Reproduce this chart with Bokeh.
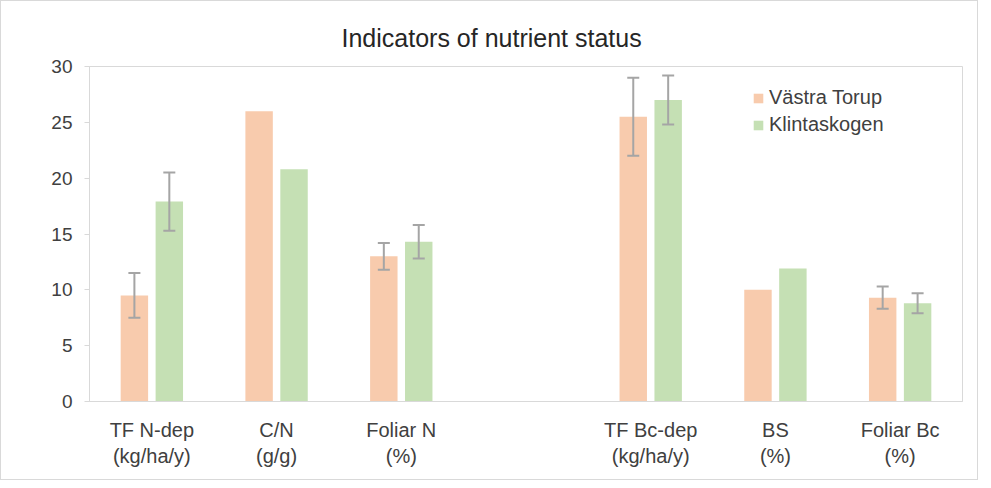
from bokeh.plotting import figure
from bokeh.models import ColumnDataSource, FactorRange, Range1d, Whisker, FixedTicker, TeeHead
from bokeh.transform import dodge
from bokeh.embed import file_html
from bokeh.resources import INLINE

# ---- data ----
categories = ["TF N-dep\n(kg/ha/y)", "C/N\n(g/g)", "Foliar N\n(%)", " ",
              "TF Bc-dep\n(kg/ha/y)", "BS\n(%)", "Foliar Bc\n(%)"]
bar_categories = ["TF N-dep\n(kg/ha/y)", "C/N\n(g/g)", "Foliar N\n(%)",
                  "TF Bc-dep\n(kg/ha/y)", "BS\n(%)", "Foliar Bc\n(%)"]
vastra_torup = [9.5, 26.0, 13.0, 25.5, 10.0, 9.3]
klintaskogen = [17.9, 20.8, 14.3, 27.0, 11.9, 8.8]
vastra_torup_err = [2.0, None, 1.2, 3.5, None, 1.0]
klintaskogen_err = [2.6, None, 1.5, 2.2, None, 0.9]
series_names = ["Västra Torup", "Klintaskogen"]
y_ticks = [0, 5, 10, 15, 20, 25, 30]

colors = ["#F8CBAD", "#C5E0B4"]
err_color = "#A5A5A5"
text_color = "#404040"
FONT = "Liberation Sans"

src = ColumnDataSource(dict(cat=bar_categories, vt=vastra_torup, kl=klintaskogen))

def err_source(vals, errs):
    c, lo, hi = [], [], []
    for cat, v, e in zip(bar_categories, vals, errs):
        if e is not None:
            c.append(cat); lo.append(v - e); hi.append(v + e)
    return ColumnDataSource(dict(cat=c, lower=lo, upper=hi))

p = figure(x_range=FactorRange(factors=categories, range_padding=0),
           y_range=Range1d(0, 30), width=978, height=480,
           output_backend="svg", toolbar_location=None,
           min_border_left=88, min_border_right=17, min_border_top=65, min_border_bottom=80)

offset = 0.14
bw = 0.22
p.vbar(x=dodge("cat", -offset, range=p.x_range), top="vt", width=bw, source=src,
       fill_color=colors[0], line_color=None, legend_label=series_names[0])
p.vbar(x=dodge("cat", offset, range=p.x_range), top="kl", width=bw, source=src,
       fill_color=colors[1], line_color=None, legend_label=series_names[1])

for vals, errs, off in [(vastra_torup, vastra_torup_err, -offset),
                        (klintaskogen, klintaskogen_err, offset)]:
    es = err_source(vals, errs)
    w = Whisker(base=dodge("cat", off, range=p.x_range), lower="lower", upper="upper",
                source=es, line_color=err_color, line_width=2, level="overlay",
                upper_head=TeeHead(size=12, line_color=err_color, line_width=2),
                lower_head=TeeHead(size=12, line_color=err_color, line_width=2))
    p.add_layout(w)

# title
p.title.text = "Indicators of nutrient status"
p.title.align = "left"
p.title.offset = 252
p.title.text_font = FONT
p.title.text_font_size = "25px"
p.title.text_font_style = "normal"
p.title.text_color = "#262626"
p.title.vertical_align = "top"
p.title.standoff = 26

# axes
p.xgrid.grid_line_color = None
p.ygrid.grid_line_color = None
p.outline_line_color = "#D9D9D9"
p.outline_line_width = 1

p.yaxis.ticker = FixedTicker(ticks=y_ticks)
p.yaxis.major_tick_out = 5
p.yaxis.major_tick_in = 0
p.yaxis.minor_tick_line_color = None
p.yaxis.axis_line_color = "#D9D9D9"
p.yaxis.major_tick_line_color = "#D9D9D9"
p.yaxis.major_label_text_font = FONT
p.yaxis.major_label_text_font_size = "19px"
p.yaxis.major_label_text_color = text_color
p.yaxis.major_label_standoff = 12

p.xaxis.major_tick_line_color = None
p.xaxis.minor_tick_line_color = None
p.xaxis.axis_line_color = "#D9D9D9"
p.xaxis.major_label_text_font = FONT
p.xaxis.major_label_text_font_size = "20px"
p.xaxis.major_label_text_color = text_color
p.xaxis.major_label_standoff = 11

# legend
lg = p.legend[0]
lg.location = (663, 265)
lg.border_line_color = None
lg.background_fill_alpha = 0
lg.padding = 0
lg.margin = 0
lg.spacing = 4
lg.glyph_width = 12
lg.glyph_height = 12
lg.label_standoff = 5
lg.label_height = 22
lg.label_text_font = FONT
lg.label_text_font_size = "20px"
lg.label_text_color = text_color

p.styles = {"border": "1px solid #D9D9D9"}

open("out.html", "w").write(file_html(p, INLINE))
